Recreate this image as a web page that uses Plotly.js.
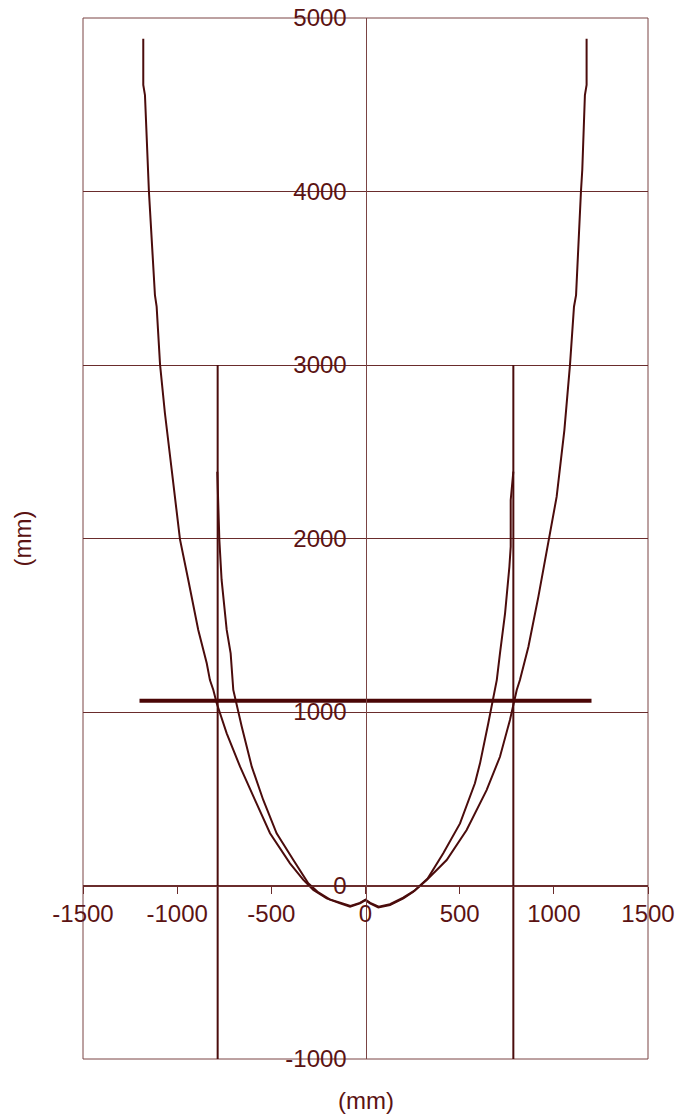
<!DOCTYPE html>
<html>
<head>
<meta charset="utf-8">
<script src="https://cdn.plot.ly/plotly-3.0.1.min.js"></script>
<style>
  html, body { margin: 0; padding: 0; background: #ffffff; }
  #chart { width: 675px; height: 1115px; }
</style>
</head>
<body>
<div id="chart"></div>
<script>
// Outer profile (mm): horizontal position vs. height
const outerX = [-1180, -1180, -1171, -1153, -1150, -1118, -1109, -1091, -1065, -1029, -985, -941, -888, -843, -826, -808, -790, -737, -666, -587, -507, -401, -330, -277, -206, -135, -82, -29, 0, 24, 68, 130, 201, 254, 325, 431, 537, 643, 714, 767, 803, 820, 865, 918, 971, 1015, 1056, 1086, 1107, 1118, 1144, 1151, 1165, 1174, 1174];
const outerY = [4880, 4614, 4556, 4124, 4000, 3403, 3336, 3004, 2722, 2395, 1995, 1761, 1473, 1281, 1184, 1127, 1050, 877, 685, 493, 301, 128, 32, -26, -74, -103, -122, -103, -84, -103, -126, -112, -74, -36, 32, 147, 320, 550, 742, 954, 1127, 1184, 1376, 1665, 1991, 2241, 2625, 3004, 3336, 3403, 3999, 4124, 4556, 4614, 4880];

// Inner profile (mm)
const innerX = [-787, -781, -776, -764, -737, -716, -705, -702, -657, -604, -543, -472, -383, -304, -250, -190, -130, -80, -30, 0, 25, 70, 130, 200, 260, 330, 413, 502, 581, 608, 652, 688, 697, 714, 741, 764, 771, 771, 785];
const innerY = [2385, 2212, 1991, 1761, 1473, 1338, 1184, 1127, 915, 685, 493, 301, 147, 13, -40, -80, -100, -118, -100, -82, -100, -122, -108, -70, -30, 40, 186, 358, 589, 704, 935, 1127, 1184, 1338, 1569, 1837, 1953, 2222, 2385];

// Vertical walls (mm)
const wallLeftX = [-785, -785];
const wallRightX = [785, 785];
const wallY = [-1000, 3000];

// Horizontal beam (mm)
const beamX = [-1200, 1200];
const beamY = [1065, 1065];

// Axis ticks
const xTicks = [-1500, -1000, -500, 0, 500, 1000, 1500];
const yTicks = [-1000, 0, 1000, 2000, 3000, 4000, 5000];

const curveColor = '#4b0c0c';
const gridColor = '#6a2c2c';
const textColor = '#5b1313';
const fontFamily = '"Liberation Sans", Arial, sans-serif';
const fontSize = 24;

const traces = [
  { x: outerX, y: outerY, mode: 'lines', line: { color: curveColor, width: 2 }, hoverinfo: 'skip' },
  { x: innerX, y: innerY, mode: 'lines', line: { color: curveColor, width: 2 }, hoverinfo: 'skip' },
  { x: wallLeftX, y: wallY, mode: 'lines', line: { color: curveColor, width: 2 }, hoverinfo: 'skip' },
  { x: wallRightX, y: wallY, mode: 'lines', line: { color: curveColor, width: 2 }, hoverinfo: 'skip' },
  { x: beamX, y: beamY, mode: 'lines', line: { color: '#4a0606', width: 4 }, hoverinfo: 'skip' }
];

const layout = {
  width: 675,
  height: 1115,
  margin: { l: 83, r: 27, t: 18, b: 56 },
  paper_bgcolor: '#ffffff',
  plot_bgcolor: '#ffffff',
  showlegend: false,
  font: { family: fontFamily, size: fontSize, color: textColor },
  xaxis: {
    range: [-1500, 1500],
    tickvals: xTicks,
    ticktext: xTicks.map(String),
    ticks: 'outside',
    ticklen: 7,
    tickwidth: 1,
    tickcolor: gridColor,
    showgrid: false,
    zeroline: false,
    showline: true,
    linecolor: gridColor,
    linewidth: 1,
    anchor: 'free',
    position: 1 / 6,
    ticklabeloverflow: 'allow',
    tickfont: { family: fontFamily, size: fontSize, color: textColor },
    fixedrange: true
  },
  yaxis: {
    range: [-1000, 5000],
    tickvals: yTicks,
    ticktext: yTicks.map(String),
    ticks: '',
    showgrid: true,
    gridcolor: gridColor,
    gridwidth: 1,
    zeroline: false,
    showline: true,
    linecolor: '#7a4444',
    linewidth: 1,
    anchor: 'free',
    position: 0.5,
    ticklabelstandoff: 14,
    ticklabeloverflow: 'allow',
    tickfont: { family: fontFamily, size: fontSize, color: textColor },
    fixedrange: true
  },
  shapes: [
    { type: 'rect', xref: 'paper', yref: 'paper', x0: 0, x1: 1, y0: 0, y1: 1,
      line: { color: '#7a4444', width: 1 }, layer: 'below' }
  ],
  annotations: [
    { text: '(mm)', xref: 'paper', yref: 'paper', x: 0.5, y: 0, yshift: -41,
      xanchor: 'center', yanchor: 'middle', showarrow: false, borderpad: 0,
      font: { family: fontFamily, size: fontSize, color: textColor } },
    { text: '(mm)', xref: 'paper', yref: 'paper', x: 0, xshift: -61, y: 0.5,
      textangle: -90, xanchor: 'center', yanchor: 'middle', showarrow: false, borderpad: 0,
      font: { family: fontFamily, size: fontSize, color: textColor } }
  ]
};

Plotly.newPlot('chart', traces, layout, { displayModeBar: false, staticPlot: true });
</script>
</body>
</html>
